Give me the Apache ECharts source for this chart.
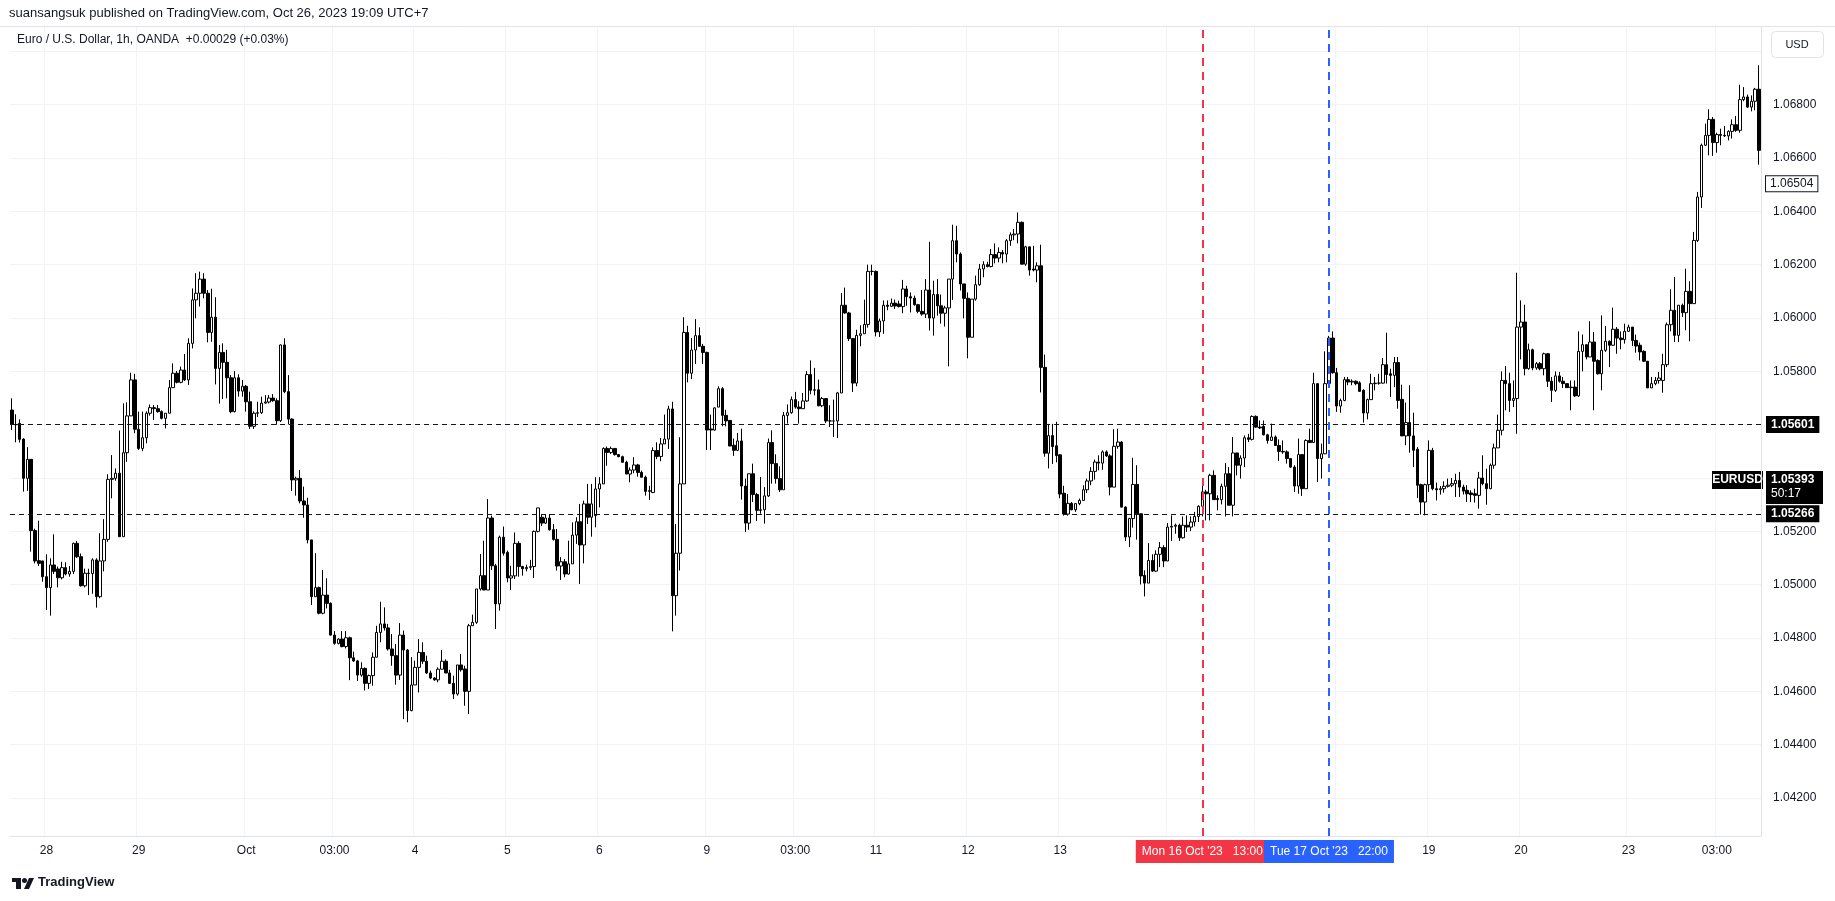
<!DOCTYPE html>
<html><head><meta charset="utf-8">
<script src="https://cdn.jsdelivr.net/npm/echarts@6/dist/echarts.min.js"></script>
<style>html,body{margin:0;padding:0;background:#fff;}#c{width:1835px;height:901px;}</style>
</head><body><div id="c"></div>
<script>
// trading sessions (date, first hour, last hour) — 1h candles, UTC+7
const sessions = [['Sep 27',15,23],['Sep 28',0,23],['Sep 29',0,23],['Sep 30',0,3],['Oct 02',4,23],['Oct 03',0,23],['Oct 04',0,23],['Oct 05',0,23],['Oct 06',0,23],['Oct 07',0,3],['Oct 09',4,23],['Oct 10',0,23],['Oct 11',0,23],['Oct 12',0,23],['Oct 13',0,23],['Oct 14',0,3],['Oct 16',4,23],['Oct 17',0,23],['Oct 18',0,23],['Oct 19',0,23],['Oct 20',0,23],['Oct 21',0,3],['Oct 23',4,23],['Oct 24',0,14]];

// candles: [open, close, low, high]
const seg1 = [
[1.05655,1.05601,1.05580,1.05699],[1.05601,1.05600,1.05534,1.05639],[1.05605,1.05545,1.05533,1.05620],[1.05546,1.05399,1.05349,1.05549],
[1.05399,1.05470,1.05352,1.05516],[1.05470,1.05203,1.05124,1.05470],[1.05203,1.05089,1.05080,1.05210],[1.05090,1.05080,1.05070,1.05240],
[1.05089,1.05030,1.05011,1.05090],[1.05030,1.04989,1.04905,1.05114],[1.04989,1.05074,1.04884,1.05099],[1.05074,1.05050,1.05040,1.05189],
[1.05059,1.05026,1.04990,1.05068],[1.05026,1.05064,1.05020,1.05086],[1.05064,1.05040,1.05035,1.05084],[1.05040,1.05050,1.05030,1.05070],
[1.05050,1.05155,1.05040,1.05158],[1.05155,1.05105,1.05100,1.05164],[1.05105,1.04996,1.04993,1.05117],[1.04996,1.05043,1.04990,1.05060],
[1.05043,1.05042,1.04961,1.05060],[1.05042,1.05093,1.04966,1.05099],[1.05093,1.04955,1.04914,1.05099],[1.04955,1.05089,1.04949,1.05193],
[1.05089,1.05170,1.05050,1.05246],[1.05170,1.05395,1.05161,1.05414],[1.05395,1.05399,1.05324,1.05486],[1.05399,1.05418,1.05390,1.05436],
[1.05418,1.05180,1.05180,1.05578],[1.05180,1.05495,1.05180,1.05680],[1.05495,1.05633,1.05461,1.05684],[1.05633,1.05768,1.05633,1.05795],
[1.05768,1.05583,1.05568,1.05791],[1.05583,1.05511,1.05505,1.05649],[1.05511,1.05551,1.05501,1.05649],[1.05551,1.05643,1.05530,1.05650],
[1.05643,1.05664,1.05634,1.05676],[1.05664,1.05660,1.05618,1.05674],[1.05660,1.05649,1.05645,1.05674],[1.05649,1.05624,1.05620,1.05654],
[1.05624,1.05643,1.05586,1.05643],[1.05643,1.05739,1.05643,1.05768],[1.05739,1.05793,1.05739,1.05830],[1.05793,1.05759,1.05755,1.05801],
[1.05759,1.05805,1.05755,1.05818],[1.05805,1.05768,1.05764,1.05865]];
const seg2 = [
[1.05768,1.05905,1.05749,1.05924],[1.05905,1.06068,1.05886,1.06111],[1.06068,1.06093,1.05999,1.06168],[1.06093,1.06146,1.06043,1.06174],
[1.06146,1.06093,1.06074,1.06168],[1.06093,1.05946,1.05909,1.06105],[1.05946,1.06003,1.05911,1.06110],[1.06003,1.05811,1.05751,1.06078],
[1.05811,1.05871,1.05679,1.05899],[1.05871,1.05834,1.05696,1.05905],[1.05834,1.05776,1.05699,1.05881],[1.05776,1.05649,1.05643,1.05786],
[1.05649,1.05776,1.05646,1.05801],[1.05776,1.05726,1.05705,1.05789],[1.05726,1.05744,1.05705,1.05768],[1.05744,1.05686,1.05649,1.05749],
[1.05686,1.05594,1.05584,1.05724],[1.05594,1.05643,1.05584,1.05650],[1.05643,1.05645,1.05629,1.05686],[1.05645,1.05681,1.05640,1.05705],
[1.05681,1.05685,1.05679,1.05711],[1.05685,1.05700,1.05680,1.05711],[1.05700,1.05690,1.05686,1.05715],[1.05690,1.05615,1.05600,1.05699],
[1.05615,1.05899,1.05610,1.05901],[1.05899,1.05724,1.05718,1.05924],[1.05724,1.05621,1.05601,1.05786],[1.05621,1.05393,1.05351,1.05624],
[1.05393,1.05399,1.05334,1.05405],[1.05399,1.05314,1.05305,1.05430],[1.05314,1.05299,1.05251,1.05368],[1.05299,1.05168,1.05155,1.05326],
[1.05168,1.04955,1.04924,1.05168],[1.04955,1.04989,1.04955,1.05118],[1.04989,1.04893,1.04889,1.04993],[1.04893,1.04961,1.04889,1.05055],
[1.04961,1.04930,1.04911,1.05024],[1.04930,1.04811,1.04809,1.04934],[1.04811,1.04780,1.04775,1.04826],[1.04780,1.04796,1.04776,1.04799],
[1.04796,1.04768,1.04765,1.04826],[1.04768,1.04801,1.04761,1.04826],[1.04801,1.04726,1.04642,1.04805],[1.04726,1.04714,1.04711,1.04749],
[1.04714,1.04661,1.04639,1.04718],[1.04661,1.04686,1.04655,1.04709]];
const seg3 = [
[1.04686,1.04630,1.04603,1.04690],[1.04630,1.04659,1.04609,1.04663],[1.04659,1.04728,1.04621,1.04746],[1.04728,1.04821,1.04728,1.04846],
[1.04821,1.04853,1.04784,1.04936],[1.04853,1.04838,1.04828,1.04915],[1.04838,1.04759,1.04753,1.04853],[1.04759,1.04734,1.04696,1.04815],
[1.04734,1.04661,1.04625,1.04778],[1.04661,1.04811,1.04643,1.04856],[1.04811,1.04755,1.04496,1.04828],[1.04755,1.04528,1.04484,1.04759],
[1.04528,1.04624,1.04525,1.04728],[1.04624,1.04690,1.04624,1.04715],[1.04690,1.04746,1.04596,1.04796],[1.04746,1.04713,1.04703,1.04784],
[1.04713,1.04669,1.04665,1.04734],[1.04669,1.04650,1.04646,1.04678],[1.04650,1.04643,1.04640,1.04653],[1.04643,1.04683,1.04634,1.04690],
[1.04683,1.04713,1.04683,1.04755],[1.04713,1.04669,1.04668,1.04720],[1.04669,1.04630,1.04628,1.04681],[1.04630,1.04590,1.04571,1.04659],
[1.04590,1.04699,1.04584,1.04699],[1.04699,1.04681,1.04674,1.04740],[1.04684,1.04600,1.04546,1.04696],[1.04600,1.04846,1.04515,1.04853],
[1.04846,1.04859,1.04846,1.04888],[1.04859,1.04984,1.04853,1.04984],[1.04984,1.05034,1.04978,1.05115],[1.05034,1.04980,1.04980,1.05165],
[1.04980,1.05250,1.04980,1.05321],[1.05250,1.05071,1.05055,1.05259],[1.05071,1.04928,1.04834,1.05078],[1.04928,1.05178,1.04903,1.05184],
[1.05178,1.05118,1.05109,1.05218],[1.05121,1.05025,1.05009,1.05128],[1.05025,1.05033,1.04980,1.05071],[1.05033,1.05155,1.05021,1.05196],
[1.05155,1.05068,1.05030,1.05163],[1.05068,1.05060,1.05034,1.05071],[1.05060,1.05065,1.05050,1.05075],[1.05065,1.05068,1.05055,1.05093],
[1.05068,1.05200,1.05025,1.05203],[1.05200,1.05288,1.05196,1.05288]];
const seg4 = [
[1.05253,1.05231,1.05220,1.05265],[1.05231,1.05250,1.05228,1.05265],[1.05250,1.05206,1.05203,1.05265],[1.05206,1.05170,1.05165,1.05228],
[1.05170,1.05070,1.05053,1.05209],[1.05070,1.05086,1.05018,1.05103],[1.05086,1.05040,1.05028,1.05096],[1.05040,1.05078,1.05038,1.05165],
[1.05078,1.05186,1.05078,1.05234],[1.05186,1.05236,1.05153,1.05253],[1.05236,1.05149,1.05003,1.05303],[1.05149,1.05303,1.05080,1.05315],
[1.05303,1.05253,1.05228,1.05378],[1.05253,1.05303,1.05180,1.05378],[1.05259,1.05359,1.05215,1.05403],[1.05359,1.05378,1.05290,1.05403],
[1.05378,1.05511,1.05378,1.05515],[1.05511,1.05496,1.05446,1.05518],[1.05496,1.05511,1.05490,1.05518],[1.05511,1.05488,1.05484,1.05511],
[1.05488,1.05480,1.05478,1.05490],[1.05480,1.05459,1.05459,1.05484],[1.05459,1.05415,1.05415,1.05465],[1.05415,1.05430,1.05384,1.05440],
[1.05430,1.05449,1.05418,1.05478],[1.05449,1.05421,1.05405,1.05453],[1.05421,1.05403,1.05403,1.05428],[1.05403,1.05350,1.05334,1.05409],
[1.05350,1.05353,1.05318,1.05371],[1.05346,1.05503,1.05343,1.05515],[1.05503,1.05481,1.05471,1.05534],[1.05481,1.05528,1.05463,1.05550],
[1.05528,1.05546,1.05528,1.05638],[1.05546,1.05659,1.05509,1.05671],[1.05659,1.04959,1.04825,1.05686],[1.04959,1.05118,1.04884,1.05228],
[1.05118,1.05378,1.05053,1.05553],[1.05378,1.05946,1.05378,1.06003],[1.05946,1.05793,1.05759,1.05971],[1.05793,1.05880,1.05771,1.05925],
[1.05880,1.05934,1.05828,1.05996],[1.05934,1.05894,1.05893,1.05965],[1.05894,1.05871,1.05828,1.05903],[1.05871,1.05580,1.05505,1.05874],
[1.05584,1.05580,1.05505,1.05638],[1.05580,1.05663,1.05578,1.05665]];
const seg5 = [
[1.05666,1.05735,1.05666,1.05744],[1.05735,1.05635,1.05594,1.05741],[1.05635,1.05614,1.05594,1.05656],[1.05616,1.05520,1.05520,1.05616],
[1.05523,1.05504,1.05483,1.05548],[1.05504,1.05539,1.05501,1.05569],[1.05539,1.05370,1.05319,1.05585],[1.05370,1.05231,1.05198,1.05398],
[1.05231,1.05416,1.05206,1.05416],[1.05416,1.05338,1.05310,1.05454],[1.05338,1.05279,1.05239,1.05344],[1.05279,1.05281,1.05266,1.05404],
[1.05281,1.05333,1.05229,1.05366],[1.05333,1.05533,1.05329,1.05548],[1.05533,1.05454,1.05379,1.05579],[1.05454,1.05398,1.05379,1.05489],
[1.05398,1.05356,1.05348,1.05444],[1.05356,1.05635,1.05356,1.05648],[1.05635,1.05645,1.05604,1.05676],[1.05645,1.05694,1.05641,1.05706],
[1.05694,1.05666,1.05660,1.05723],[1.05666,1.05660,1.05604,1.05688],[1.05660,1.05689,1.05660,1.05719],[1.05689,1.05788,1.05685,1.05801],
[1.05788,1.05729,1.05714,1.05841],[1.05729,1.05731,1.05710,1.05813],[1.05731,1.05671,1.05669,1.05769],[1.05671,1.05698,1.05666,1.05704],
[1.05698,1.05614,1.05606,1.05698],[1.05614,1.05614,1.05591,1.05673],[1.05614,1.05614,1.05554,1.05694],[1.05614,1.05719,1.05550,1.05723],
[1.05719,1.06048,1.05719,1.06094],[1.06048,1.06019,1.06016,1.06114],[1.06019,1.05923,1.05914,1.06023],[1.05923,1.05756,1.05723,1.05923],
[1.05756,1.05935,1.05744,1.05956],[1.05935,1.05941,1.05894,1.05973],[1.05941,1.05976,1.05941,1.06069],[1.05976,1.06175,1.05964,1.06200],
[1.06175,1.06175,1.06160,1.06200],[1.06175,1.05948,1.05931,1.06178],[1.05948,1.05989,1.05929,1.05998],[1.05989,1.06048,1.05941,1.06066],
[1.06048,1.06044,1.06029,1.06066],[1.06044,1.06056,1.06041,1.06073]];
const seg6 = [
[1.06056,1.06045,1.06034,1.06069],[1.06053,1.06043,1.06040,1.06065],[1.06043,1.06109,1.06018,1.06143],[1.06109,1.06080,1.06046,1.06121],
[1.06080,1.06075,1.06021,1.06096],[1.06075,1.06050,1.06046,1.06084],[1.06050,1.06025,1.06018,1.06053],[1.06025,1.06015,1.06009,1.06105],
[1.06015,1.06105,1.06000,1.06146],[1.06105,1.06000,1.05953,1.06286],[1.06000,1.06088,1.05934,1.06140],[1.06088,1.06046,1.06009,1.06146],
[1.06046,1.06018,1.05979,1.06088],[1.06018,1.06038,1.05968,1.06046],[1.06038,1.06146,1.05819,1.06146],[1.06146,1.06290,1.06068,1.06350],
[1.06290,1.06240,1.06209,1.06346],[1.06240,1.06128,1.06103,1.06246],[1.06128,1.06074,1.05999,1.06128],[1.06074,1.05928,1.05849,1.06096],
[1.05928,1.06071,1.05928,1.06071],[1.06071,1.06125,1.06065,1.06159],[1.06125,1.06184,1.06121,1.06203],[1.06184,1.06200,1.06153,1.06213],
[1.06200,1.06193,1.06190,1.06211],[1.06193,1.06238,1.06190,1.06259],[1.06238,1.06225,1.06205,1.06280],[1.06225,1.06246,1.06209,1.06265],
[1.06246,1.06240,1.06205,1.06255],[1.06240,1.06290,1.06209,1.06296],[1.06290,1.06312,1.06271,1.06321],[1.06312,1.06315,1.06292,1.06334],
[1.06315,1.06359,1.06280,1.06396],[1.06359,1.06202,1.06202,1.06362],[1.06202,1.06267,1.06196,1.06271],[1.06267,1.06180,1.06159,1.06267],
[1.06184,1.06180,1.06175,1.06271],[1.06180,1.06196,1.06134,1.06209],[1.06196,1.05815,1.05721,1.06275],[1.05815,1.05493,1.05480,1.05863],
[1.05493,1.05559,1.05436,1.05603],[1.05559,1.05518,1.05453,1.05603],[1.05521,1.05484,1.05459,1.05611],[1.05487,1.05340,1.05324,1.05490],
[1.05343,1.05265,1.05259,1.05371],[1.05265,1.05305,1.05259,1.05340]];
const seg7 = [
[1.05305,1.05281,1.05279,1.05310],[1.05281,1.05304,1.05273,1.05306],[1.05304,1.05316,1.05298,1.05323],[1.05316,1.05356,1.05314,1.05373],
[1.05356,1.05389,1.05344,1.05398],[1.05389,1.05425,1.05373,1.05441],[1.05425,1.05460,1.05394,1.05469],[1.05460,1.05456,1.05429,1.05485],
[1.05456,1.05498,1.05431,1.05504],[1.05498,1.05483,1.05479,1.05504],[1.05483,1.05366,1.05335,1.05489],[1.05366,1.05519,1.05366,1.05583],
[1.05519,1.05535,1.05510,1.05585],[1.05535,1.05291,1.05289,1.05538],[1.05291,1.05179,1.05164,1.05294],[1.05179,1.05248,1.05141,1.05251],
[1.05248,1.05376,1.05214,1.05476],[1.05376,1.05266,1.05169,1.05448],[1.05266,1.05033,1.05001,1.05266],[1.05035,1.05006,1.04956,1.05054],
[1.05006,1.05091,1.05006,1.05156],[1.05091,1.05051,1.05048,1.05114],[1.05051,1.05114,1.05048,1.05129],[1.05114,1.05139,1.05066,1.05160],
[1.05139,1.05089,1.05066,1.05148],[1.05089,1.05216,1.05089,1.05231],[1.05216,1.05219,1.05164,1.05260],[1.05219,1.05223,1.05191,1.05229],
[1.05223,1.05176,1.05164,1.05229],[1.05176,1.05223,1.05173,1.05256],[1.05223,1.05216,1.05198,1.05260],[1.05216,1.05235,1.05201,1.05256],
[1.05235,1.05256,1.05219,1.05273],[1.05256,1.05294,1.05235,1.05298],[1.05294,1.05348,1.05256,1.05373],[1.05348,1.05341,1.05241,1.05356],
[1.05341,1.05410,1.05241,1.05416],[1.05410,1.05319,1.05319,1.05429],[1.05323,1.05319,1.05279,1.05335],[1.05319,1.05369,1.05301,1.05379],
[1.05369,1.05416,1.05256,1.05456],[1.05416,1.05298,1.05298,1.05441],[1.05298,1.05494,1.05256,1.05554],[1.05494,1.05448,1.05410,1.05494],
[1.05448,1.05475,1.05398,1.05485],[1.05475,1.05551,1.05441,1.05560]];
const seg8 = [
[1.05551,1.05545,1.05535,1.05566],[1.05545,1.05631,1.05541,1.05635],[1.05631,1.05591,1.05588,1.05635],[1.05591,1.05588,1.05584,1.05616],
[1.05594,1.05562,1.05560,1.05616],[1.05562,1.05541,1.05529,1.05566],[1.05541,1.05554,1.05541,1.05604],[1.05554,1.05522,1.05522,1.05560],
[1.05522,1.05500,1.05464,1.05545],[1.05500,1.05498,1.05491,1.05541],[1.05498,1.05473,1.05454,1.05504],[1.05473,1.05441,1.05438,1.05473],
[1.05441,1.05370,1.05348,1.05448],[1.05370,1.05488,1.05341,1.05548],[1.05488,1.05360,1.05333,1.05488],[1.05360,1.05541,1.05360,1.05545],
[1.05541,1.05533,1.05533,1.05585],[1.05533,1.05754,1.05533,1.05795],[1.05754,1.05473,1.05385,1.05754],[1.05473,1.05491,1.05398,1.05529],
[1.05491,1.05754,1.05491,1.05875],[1.05754,1.05925,1.05754,1.05933],[1.05925,1.05795,1.05791,1.05950],[1.05795,1.05670,1.05648,1.05813],
[1.05670,1.05691,1.05645,1.05698],[1.05691,1.05769,1.05688,1.05779],[1.05769,1.05760,1.05748,1.05779],[1.05760,1.05763,1.05748,1.05770],
[1.05763,1.05754,1.05748,1.05766],[1.05757,1.05725,1.05723,1.05763],[1.05729,1.05644,1.05608,1.05733],[1.05644,1.05694,1.05620,1.05698],
[1.05694,1.05754,1.05694,1.05791],[1.05754,1.05756,1.05729,1.05779],[1.05756,1.05756,1.05750,1.05791],[1.05756,1.05825,1.05754,1.05850],
[1.05825,1.05788,1.05754,1.05945],[1.05791,1.05785,1.05704,1.05810],[1.05785,1.05833,1.05741,1.05854],[1.05833,1.05691,1.05660,1.05854],
[1.05695,1.05558,1.05558,1.05750],[1.05558,1.05608,1.05523,1.05683],[1.05608,1.05558,1.05495,1.05748],[1.05558,1.05504,1.05441,1.05645],
[1.05508,1.05373,1.05325,1.05516],[1.05375,1.05310,1.05263,1.05379]];
const seg9 = [
[1.05310,1.05375,1.05260,1.05379],[1.05375,1.05504,1.05348,1.05541],[1.05504,1.05360,1.05354,1.05513],[1.05360,1.05356,1.05316,1.05383],
[1.05356,1.05360,1.05338,1.05370],[1.05360,1.05369,1.05345,1.05388],[1.05369,1.05373,1.05364,1.05398],[1.05373,1.05379,1.05366,1.05400],
[1.05379,1.05391,1.05329,1.05416],[1.05391,1.05366,1.05329,1.05423],[1.05366,1.05351,1.05338,1.05375],[1.05354,1.05341,1.05310,1.05373],
[1.05344,1.05338,1.05310,1.05354],[1.05341,1.05335,1.05308,1.05360],[1.05335,1.05400,1.05285,1.05423],[1.05400,1.05379,1.05373,1.05485],
[1.05379,1.05360,1.05300,1.05435],[1.05360,1.05448,1.05358,1.05454],[1.05448,1.05513,1.05435,1.05529],[1.05513,1.05579,1.05513,1.05638],
[1.05579,1.05766,1.05560,1.05800],[1.05766,1.05754,1.05654,1.05820],[1.05754,1.05691,1.05648,1.05795],[1.05691,1.05698,1.05666,1.05766],
[1.05698,1.05966,1.05566,1.06170],[1.05966,1.05985,1.05845,1.06066],[1.05985,1.05810,1.05785,1.06050],[1.05810,1.05881,1.05806,1.05904],
[1.05881,1.05813,1.05804,1.05885],[1.05813,1.05829,1.05806,1.05835],[1.05829,1.05810,1.05804,1.05835],[1.05810,1.05866,1.05785,1.05870],
[1.05866,1.05763,1.05741,1.05869],[1.05763,1.05729,1.05685,1.05779],[1.05729,1.05783,1.05723,1.05800],[1.05783,1.05763,1.05758,1.05798],
[1.05763,1.05754,1.05738,1.05779],[1.05754,1.05739,1.05738,1.05754],[1.05739,1.05741,1.05654,1.05766],[1.05741,1.05708,1.05704,1.05766],
[1.05708,1.05875,1.05704,1.05950],[1.05875,1.05900,1.05800,1.05938],[1.05900,1.05854,1.05845,1.05900],[1.05854,1.05910,1.05854,1.05988],
[1.05910,1.05838,1.05654,1.05948],[1.05841,1.05791,1.05788,1.05845]];
const seg10 = [
[1.05791,1.05879,1.05729,1.06010],[1.05879,1.05913,1.05873,1.05970],[1.05913,1.05898,1.05816,1.05916],[1.05898,1.05958,1.05895,1.06039],
[1.05958,1.05925,1.05866,1.05966],[1.05925,1.05919,1.05883,1.05950],[1.05919,1.05950,1.05904,1.05979],[1.05950,1.05966,1.05948,1.05975],
[1.05966,1.05916,1.05895,1.05966],[1.05916,1.05895,1.05870,1.05938],[1.05898,1.05873,1.05841,1.05908],[1.05875,1.05838,1.05835,1.05879],
[1.05838,1.05738,1.05738,1.05838],[1.05738,1.05754,1.05738,1.05779],[1.05754,1.05766,1.05748,1.05779],[1.05766,1.05775,1.05754,1.05798],
[1.05766,1.05825,1.05720,1.05866],[1.05825,1.05975,1.05816,1.05983],[1.05975,1.06029,1.05950,1.06108],[1.06029,1.05935,1.05910,1.06154],
[1.05935,1.06048,1.05910,1.06048],[1.06048,1.06020,1.06004,1.06054],[1.06020,1.06100,1.05954,1.06185],[1.06100,1.06054,1.05913,1.06138],
[1.06054,1.06291,1.06054,1.06323],[1.06291,1.06454,1.06285,1.06473],[1.06454,1.06648,1.06413,1.06654],[1.06648,1.06685,1.06645,1.06729],
[1.06685,1.06745,1.06610,1.06783],[1.06745,1.06658,1.06608,1.06754],[1.06658,1.06688,1.06620,1.06695],[1.06688,1.06685,1.06648,1.06710],
[1.06685,1.06683,1.06679,1.06720],[1.06683,1.06700,1.06666,1.06704],[1.06700,1.06725,1.06673,1.06745],[1.06725,1.06704,1.06698,1.06758],
[1.06704,1.06819,1.06695,1.06875],[1.06819,1.06829,1.06813,1.06866],[1.06829,1.06791,1.06788,1.06838],[1.06791,1.06813,1.06775,1.06835],
[1.06813,1.06858,1.06779,1.06863],[1.06858,1.06629,1.06575,1.06948]];

// time-axis labels
const tickTimes = ['Sep 28 00:00','Sep 29 00:00','Oct 02 04:00','Oct 03 03:00','Oct 04 00:00','Oct 05 00:00','Oct 06 00:00','Oct 09 04:00','Oct 10 03:00','Oct 11 00:00','Oct 12 00:00','Oct 13 00:00','Oct 19 00:00','Oct 20 00:00','Oct 23 04:00','Oct 24 03:00'];
const tickLabels = ['28','29','Oct','03:00','4','5','6','9','03:00','11','12','13','19','20','23','03:00'];
const hiddenTickTimes = ['Oct 16 04:00','Oct 17 03:00','Oct 18 00:00'];
// price axis
const yGridValues = [1.042,1.044,1.046,1.048,1.050,1.052,1.054,1.056,1.058,1.060,1.062,1.064,1.066,1.068,1.070];
const yLabelValues = [1.042,1.044,1.046,1.048,1.050,1.052,1.058,1.060,1.062,1.064,1.066,1.068];
// drawings
const levelPrices = [1.05601, 1.05266];
const boxPrice = 1.06504;
const markTimes = ['Oct 16 13:00','Oct 17 22:00'];
const markDates = ["Mon 16 Oct '23","Tue 17 Oct '23"];
const markHours = ['13:00','22:00'];
const markColors = ['#f23645','#2962ff'];
const lastPrice = 1.05393;
const countdown = '50:17';

const categories = [];
sessions.forEach(([d,h0,h1]) => { for (let h=h0; h<=h1; h++) categories.push(d+' '+String(h).padStart(2,'0')+':00'); });
const candles = [].concat(seg1,seg2,seg3,seg4,seg5,seg6,seg7,seg8,seg9,seg10);

const labelMap = {}; tickTimes.forEach((t,k)=>labelMap[t]=tickLabels[k]);
const gridSet = new Set(tickTimes.concat(hiddenTickTimes));

const FONT = '"Liberation Sans", Arial, sans-serif';
const TXT = '#131722';
const chart = echarts.init(document.getElementById('c'));

const markData = [];
levelPrices.forEach(p => markData.push({
  yAxis: p,
  lineStyle: {color: '#131722', type: [5,4], width: 1},
  label: {show: true, position: 'end', distance: 5, formatter: v => v.value.toFixed(5),
    backgroundColor: '#000', color: '#fff', fontWeight: 'bold', fontSize: 12, fontFamily: FONT, padding: [3,5,2,5]}
}));
markData.push({
  yAxis: boxPrice,
  lineStyle: {color: 'rgba(0,0,0,0)', width: 1},
  label: {show: true, position: 'end', distance: 5, formatter: v => v.value.toFixed(5),
    backgroundColor: '#fff', borderColor: '#131722', borderWidth: 1, color: TXT, fontSize: 12, fontFamily: FONT, padding: [2,4,1,4]}
});
markTimes.forEach((t,k) => markData.push({
  xAxis: t,
  lineStyle: {color: markColors[k], type: [8,6], width: 2},
  label: {show: true, position: 'start', distance: 4, formatter: markDates[k] + '   ' + markHours[k],
    backgroundColor: markColors[k], color: '#fff', fontSize: 12, fontFamily: FONT, padding: [6,6,5,6]}
}));

chart.setOption({
  animation: false,
  backgroundColor: '#ffffff',
  textStyle: {fontFamily: FONT},
  grid: {left: 10, right: 74, top: 27, bottom: 65, containLabel: false},
  xAxis: {
    type: 'category', data: categories, boundaryGap: true,
    axisLine: {show: true, lineStyle: {color: '#e0e3eb'}},
    axisTick: {show: false},
    axisLabel: {
      interval: (i, v) => labelMap[v] !== undefined,
      formatter: v => labelMap[v] || '',
      color: TXT, fontSize: 12, margin: 9, fontFamily: FONT
    },
    splitLine: {show: true, interval: (i, v) => gridSet.has(v), lineStyle: {color: '#f0f3fa', width: 1}}
  },
  yAxis: {
    type: 'value', position: 'right', scale: true,
    min: 1.040576, max: 1.070914,
    axisLine: {show: true, lineStyle: {color: '#e0e3eb'}},
    axisTick: {show: false, customValues: yGridValues},
    axisLabel: {customValues: yLabelValues, formatter: v => v.toFixed(5), color: TXT, fontSize: 12, margin: 12, fontFamily: FONT},
    splitLine: {show: true, lineStyle: {color: '#f0f3fa', width: 1}}
  },
  series: [{
    type: 'candlestick',
    data: candles,
    barWidth: 3,
    itemStyle: {color: '#ffffff', color0: '#000000', borderColor: '#000000', borderColor0: '#000000', borderWidth: 1},
    emphasis: {disabled: true},
    markLine: {symbol: ['none','none'], silent: true, animation: false, precision: 5, data: markData}
  }]
});

const py = chart.convertToPixel({yAxisIndex: 0}, lastPrice);
chart.setOption({
  graphic: [
    {type: 'text', left: 9, top: 7, style: {text: 'suansangsuk published on TradingView.com, Oct 26, 2023 19:09 UTC+7', fill: TXT, font: '13px ' + FONT}},
    {type: 'line', shape: {x1: 0, y1: 26.5, x2: 1835, y2: 26.5}, style: {stroke: '#e0e3eb', lineWidth: 1}},
    {type: 'text', left: 17, top: 34, style: {text: 'Euro / U.S. Dollar, 1h, OANDA  +0.00029 (+0.03%)', fill: TXT, font: '12px ' + FONT}},
    {type: 'rect', shape: {x: 1771.5, y: 31.5, width: 52, height: 26, r: 4}, style: {fill: '#fff', stroke: '#e0e3eb', lineWidth: 1}},
    {type: 'text', x: 1797, y: 44.5, style: {text: 'USD', fill: TXT, font: '11px ' + FONT, align: 'center', verticalAlign: 'middle'}},
    {type: 'rect', shape: {x: 1712, y: py - 9, width: 51, height: 18}, style: {fill: '#000'}},
    {type: 'text', x: 1737.5, y: py, style: {text: 'EURUSD', fill: '#fff', font: 'bold 12px ' + FONT, align: 'center', verticalAlign: 'middle'}},
    {type: 'rect', shape: {x: 1766, y: py - 9, width: 57, height: 33}, style: {fill: '#000'}},
    {type: 'text', x: 1771, y: py, style: {text: lastPrice.toFixed(5), fill: '#fff', font: 'bold 12px ' + FONT, verticalAlign: 'middle'}},
    {type: 'text', x: 1771, y: py + 14, style: {text: countdown, fill: '#fff', font: '12px ' + FONT, verticalAlign: 'middle'}},
    {type: 'rect', shape: {x: 12, y: 878, width: 9, height: 4}, style: {fill: '#131722'}},
    {type: 'rect', shape: {x: 16, y: 878, width: 5, height: 11}, style: {fill: '#131722'}},
    {type: 'circle', shape: {cx: 24.5, cy: 880.5, r: 2.5}, style: {fill: '#131722'}},
    {type: 'polygon', shape: {points: [[24,889],[29,878],[34,878],[29,889]]}, style: {fill: '#131722'}},
    {type: 'text', left: 38, top: 876, style: {text: 'TradingView', fill: TXT, font: 'bold 13px ' + FONT}}
  ]
});
</script>
</body></html>
